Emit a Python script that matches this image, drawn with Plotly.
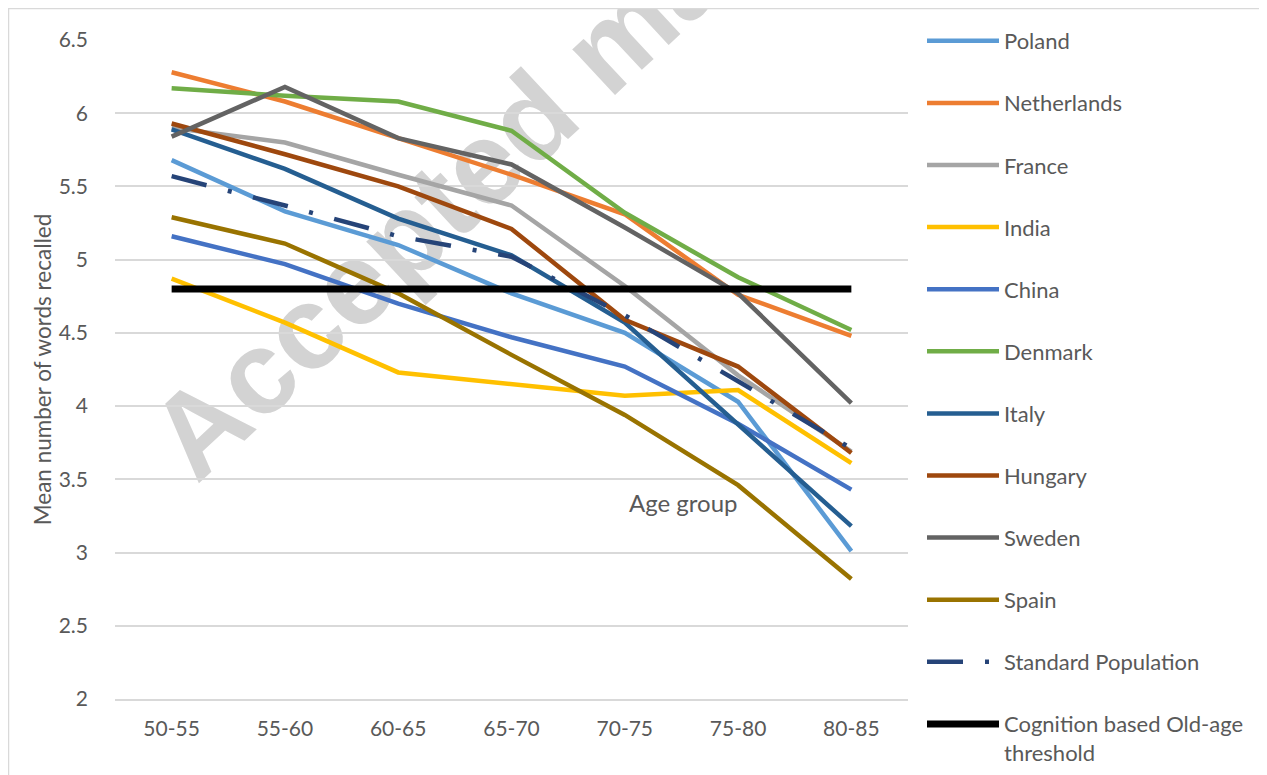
import plotly.graph_objects as go

categories = ["50-55", "55-60", "60-65", "65-70", "70-75", "75-80", "80-85"]

poland = [5.68, 5.33, 5.10, 4.77, 4.50, 4.03, 3.01]
netherlands = [6.28, 6.08, 5.83, 5.58, 5.31, 4.76, 4.48]
france = [5.90, 5.80, 5.58, 5.37, 4.82, 4.21, 3.69]
india = [4.87, 4.57, 4.23, 4.15, 4.07, 4.11, 3.61]
china = [5.16, 4.97, 4.70, 4.47, 4.27, 3.88, 3.43]
denmark = [6.17, 6.12, 6.08, 5.88, 5.32, 4.88, 4.52]
italy = [5.89, 5.62, 5.28, 5.03, 4.57, 3.87, 3.18]
hungary = [5.93, 5.72, 5.50, 5.21, 4.59, 4.27, 3.68]
sweden = [5.84, 6.18, 5.83, 5.65, 5.22, 4.77, 4.02]
spain = [5.29, 5.11, 4.77, 4.35, 3.94, 3.46, 2.82]
standard_population = [5.57, 5.37, 5.16, 5.02, 4.62, 4.17, 3.71]
threshold = [4.8, 4.8, 4.8, 4.8, 4.8, 4.8, 4.8]

y_ticks = [2, 2.5, 3, 3.5, 4, 4.5, 5, 5.5, 6, 6.5]

series = [
    ("Poland", poland, "#5B9BD5", "solid", 4.5),
    ("Netherlands", netherlands, "#ED7D31", "solid", 4.5),
    ("France", france, "#A5A5A5", "solid", 4.5),
    ("India", india, "#FFC000", "solid", 4.5),
    ("China", china, "#4472C4", "solid", 4.5),
    ("Denmark", denmark, "#70AD47", "solid", 4.5),
    ("Italy", italy, "#255E91", "solid", 4.5),
    ("Hungary", hungary, "#9E480E", "solid", 4.5),
    ("Sweden", sweden, "#636363", "solid", 4.5),
    ("Spain", spain, "#997300", "solid", 4.5),
    ("Standard Population", standard_population, "#264478", "36px,22px,4px,22px", 4.5),
    ("Cognition based Old-age<br>threshold", threshold, "#000000", "solid", 7),
]

TXT = "#595959"
FONT = "Lato"

fig = go.Figure()
for i, (name, vals, col, dash, w) in enumerate(series):
    fig.add_trace(go.Scatter(
        x=categories, y=vals, mode="lines", name=name,
        legendgroup=f"g{i}",
        line=dict(color=col, width=w, dash=dash),
        hoverinfo="skip",
    ))

# page body has an 8px margin: the figure is offset by OFF in the window
OFF = 8
# plot area in window pixels
L, R, T, B = 115, 908, 40, 699
W, H = 1267 - OFF, 775 - OFF
pw, ph = R - L, B - T

def px(x):
    return (x - L) / pw

def py(y):
    return (B - y) / ph

# watermark (below grid and traces)
cx, cy = 600, 38
fig.add_shape(
    type="rect", xref="paper", yref="paper",
    x0=px(cx - 10), x1=px(cx + 10), y0=py(cy + 10), y1=py(cy - 10),
    line=dict(width=0), fillcolor="rgba(0,0,0,0)", layer="below",
    label=dict(text="Accepted manuscript", textangle=-43,
               textposition="middle center",
               font=dict(family="Liberation Sans", size=118, color="#D3D3D3", weight="bold")),
)

# chart area border
fig.add_shape(
    type="rect", xref="paper", yref="paper",
    x0=px(8.5), x1=px(1264), y0=py(800), y1=py(8.5),
    line=dict(width=1.5, color="#D9D9D9"), fillcolor="rgba(0,0,0,0)", layer="below",
)

fig.add_annotation(
    x=px(683), y=py(502), xref="paper", yref="paper",
    xanchor="center", yanchor="middle",
    text="Age group", showarrow=False,
    font=dict(family=FONT, size=24, color=TXT),
)

fig.update_layout(
    width=W, height=H,
    margin=dict(l=L - OFF, r=(W + OFF) - R, t=T - OFF, b=(H + OFF) - B, pad=0),
    paper_bgcolor="white", plot_bgcolor="white",
    font=dict(family=FONT, size=21, color=TXT),
    showlegend=True,
    legend=dict(
        x=px(922), xanchor="left",
        yref="paper", y=py(20), yanchor="top",
        traceorder="grouped", tracegroupgap=30.5,
        itemwidth=72, valign="top",
        font=dict(family=FONT, size=22, color=TXT),
        bgcolor="rgba(0,0,0,0)", borderwidth=0,
        maxheight=H,
    ),
    xaxis=dict(
        type="category", range=[-0.5, 6.5],
        showgrid=False, showline=True, linecolor="#D9D9D9", linewidth=1.5,
        ticks="", tickfont=dict(family=FONT, size=21, color=TXT),
        ticklabelstandoff=10, automargin=False, fixedrange=True,
    ),
    yaxis=dict(
        range=[2, 6.5], tickvals=y_ticks, ticktext=[f"{v:g}" for v in y_ticks],
        showgrid=True, gridcolor="#D9D9D9", gridwidth=1.5,
        zeroline=False, showline=False, ticks="",
        tickfont=dict(family=FONT, size=21, color=TXT),
        ticklabelstandoff=26, automargin=False, fixedrange=True,
        title=dict(text="Mean number of words recalled",
                   font=dict(family=FONT, size=22.5, color=TXT), standoff=0),
    ),
)

fig.write_html("out.html")
